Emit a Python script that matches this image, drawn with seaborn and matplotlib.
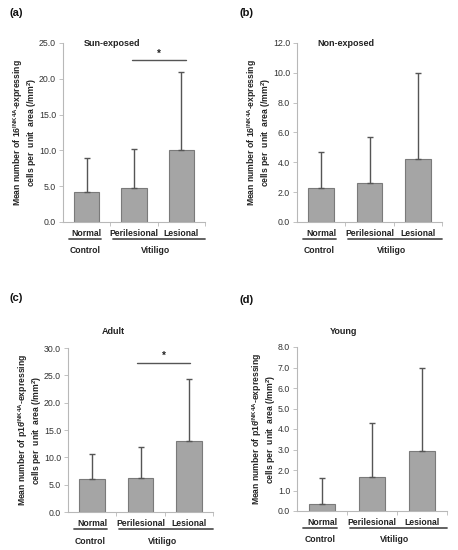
import numpy as np
import pandas as pd
import seaborn as sns
import matplotlib
matplotlib.use("Agg")
import matplotlib.pyplot as plt

# data
categories = ["Normal", "Perilesional", "Lesional"]
groups = ["Control", "Vitiligo"]

panel_labels = ["(a)", "(b)", "(c)", "(d)"]
panel_titles = ["Sun-exposed", "Non-exposed", "Adult", "Young"]

mean_a = [4.2, 4.8, 10.0]
sd_a = [4.8, 5.4, 11.0]
mean_b = [2.25, 2.6, 4.2]
sd_b = [2.45, 3.1, 5.8]
mean_c = [6.1, 6.3, 12.9]
sd_c = [4.5, 5.6, 11.5]
mean_d = [0.35, 1.65, 2.95]
sd_d = [1.25, 2.65, 4.05]

ymax = [25, 12, 30, 8]
ystep = [5, 2, 5, 1]

# significance bars: (from x, to x, height)
sig_a = (0.95, 2.09, 22.6)
sig_c = (0.93, 2.03, 27.3)

ylab_ab = "Mean number of 16$^{\\mathregular{INK4A}}$-expressing\ncells per  unit  area (/mm$^{\\mathregular{2}}$)"
ylab_cd = "Mean number of p16$^{\\mathregular{INK4A}}$-expressing\ncells per  unit  area (/mm$^{\\mathregular{2}}$)"

sns.set_style("white")
plt.rcParams["font.family"] = ["Liberation Sans", "DejaVu Sans"]

BAR = "#a5a5a5"
EDGE = "#7a7a7a"
DARK = "#555555"
SPINE = "#b8b8b8"
TXT = "#222222"

fig = plt.figure(figsize=(4.58, 5.5), dpi=100)
W, H = 458, 550
# axes boxes in pixels: left, top, right, bottom
boxes = [(63, 43, 205, 222), (297, 43, 442, 222), (68, 348, 213, 512), (297, 347, 447, 511)]
means = [mean_a, mean_b, mean_c, mean_d]
sds = [sd_a, sd_b, sd_c, sd_d]
sigs = [sig_a, None, sig_c, None]
ylabs = [ylab_ab, ylab_ab, ylab_cd, ylab_cd]
label_pos = [(10, 13), (239, 13), (10, 298), (239, 300)]

for i in range(4):
    l, t, r, b = boxes[i]
    ax = fig.add_axes([l / W, 1 - b / H, (r - l) / W, (b - t) / H])
    hpx = b - t
    df = pd.DataFrame({"cat": categories, "val": means[i]})
    sns.barplot(data=df, x="cat", y="val", ax=ax, color=BAR, width=0.53,
                edgecolor=EDGE, linewidth=0.8, errorbar=None, saturation=1)
    ax.errorbar(range(3), means[i], yerr=[np.zeros(3), sds[i]], fmt="none",
                ecolor=DARK, elinewidth=1.0, capsize=2, capthick=1.0, zorder=1)
    ax.set_xlim(-0.5, 2.5)
    ax.set_ylim(0, ymax[i])
    ticks = np.arange(0, ymax[i] + 0.01, ystep[i])
    ax.set_yticks(ticks)
    ax.set_yticklabels([f"{v:.1f}" for v in ticks], fontsize=6.3, color="#333333")
    ax.tick_params(axis="y", left=True, length=3, width=0.6, color=SPINE, pad=2)
    ax.set_xticks(range(3))
    ax.set_xticklabels(categories, fontsize=6.2, fontweight="bold", color=TXT)
    ax.tick_params(axis="x", which="major", bottom=False, length=0, pad=5)
    ax.set_xticks([0.5, 1.5, 2.5], minor=True)
    ax.tick_params(axis="x", which="minor", bottom=True, length=3, width=0.6, color=SPINE)
    for s in ["top", "right"]:
        ax.spines[s].set_visible(False)
    for s in ["left", "bottom"]:
        ax.spines[s].set_color(SPINE)
        ax.spines[s].set_linewidth(0.8)
    ax.set_xlabel("")
    ax.set_ylabel(ylabs[i], fontsize=6.2, fontweight="bold", labelpad=0, linespacing=1.0,
                  color=TXT)

    # group underlines and labels
    tr = ax.get_xaxis_transform()
    yl = -17 / hpx
    ax.plot([-0.38, 0.3], [yl, yl], transform=tr, color=DARK, lw=1.3, clip_on=False)
    ax.plot([0.55, 2.5], [yl, yl], transform=tr, color=DARK, lw=1.3, clip_on=False)
    yg = -29 / hpx
    ax.text(-0.04, yg, groups[0], transform=tr, ha="center", va="center",
            fontsize=6.2, fontweight="bold", color=TXT)
    ax.text(1.45, yg, groups[1], transform=tr, ha="center", va="center",
            fontsize=6.2, fontweight="bold", color=TXT)

    # title
    if i < 2:
        ax.text(-0.07, 0.995, panel_titles[i], transform=tr,
                ha="left", va="center", fontsize=6.5, fontweight="bold", color=TXT)
    else:
        ax.text(0.43, 1 + 16 / hpx, panel_titles[i], transform=tr, ha="center",
                va="center", fontsize=6.5, fontweight="bold", color=TXT)

    if sigs[i] is not None:
        x0, x1, yv = sigs[i]
        ax.plot([x0, x1], [yv, yv], color=DARK, lw=1.0)
        ax.text((x0 + x1) / 2, yv + ymax[i] * 0.01, "*", ha="center", va="bottom",
                fontsize=7, fontweight="bold", color=TXT)

    lx, ly = label_pos[i]
    fig.text(lx / W, 1 - ly / H, panel_labels[i], ha="left", va="center",
             fontsize=8, fontweight="bold", color="#111111")

fig.savefig("out.png", dpi=100)
